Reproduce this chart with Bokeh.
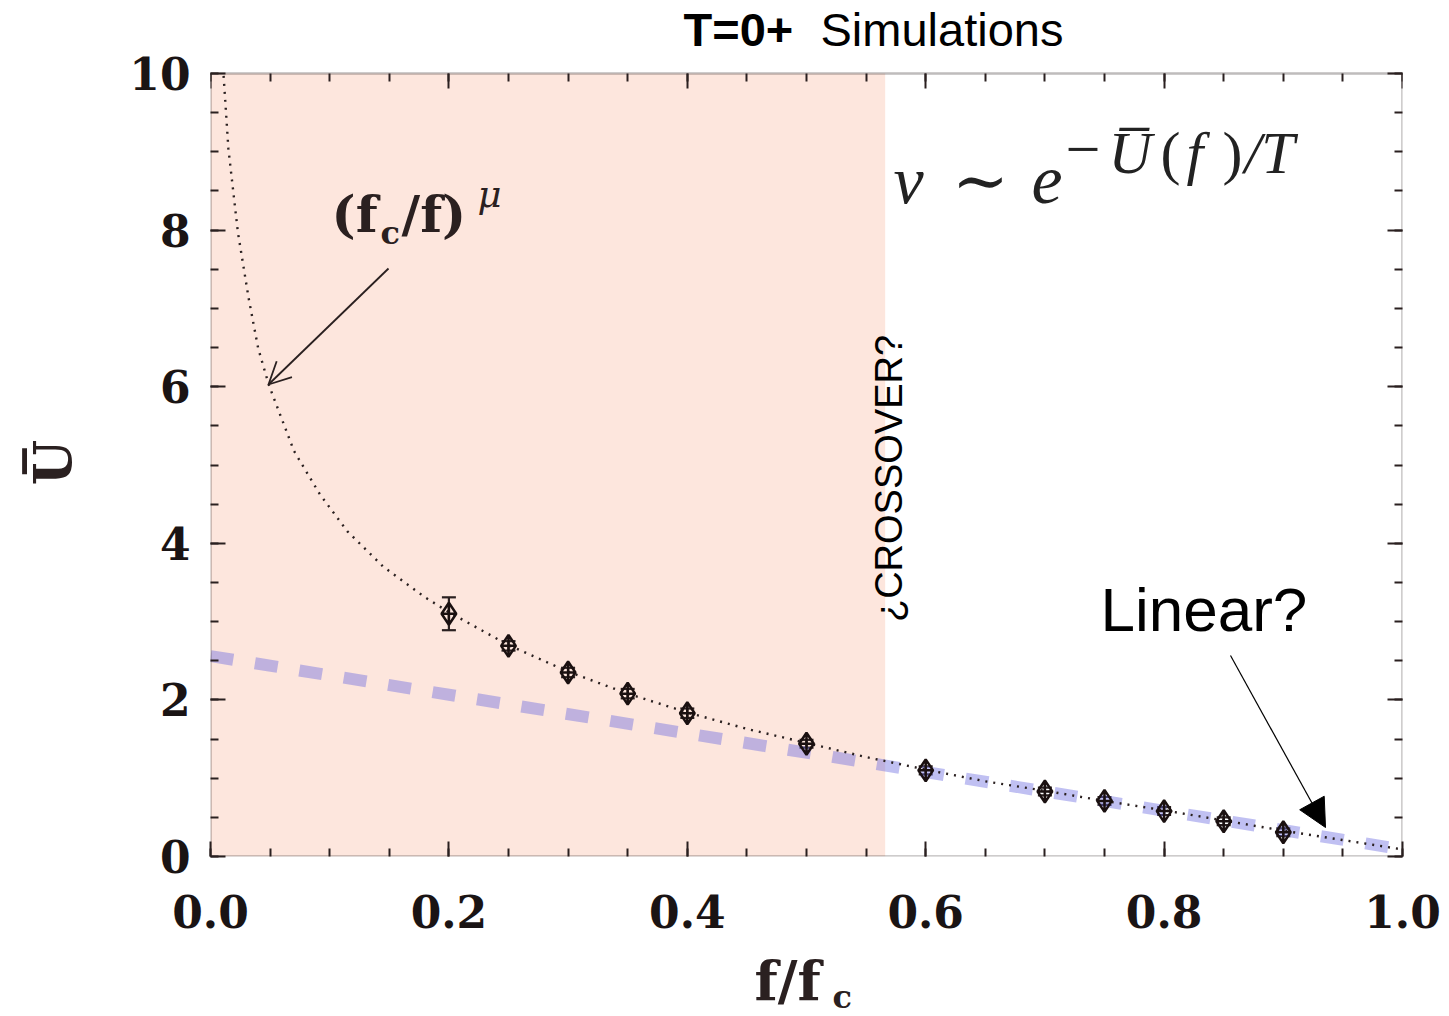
import math
from bokeh.plotting import figure
from bokeh.models import (Range1d, FixedTicker, LinearAxis, Label, Arrow, OpenHead,
                          NormalHead, BoxAnnotation, Whisker, TeeHead, ColumnDataSource,
                          PrintfTickFormatter)
from bokeh.embed import file_html
from bokeh.resources import INLINE

# ---------------- data ----------------
f_pts = [0.20, 0.25, 0.30, 0.35, 0.40, 0.50, 0.60, 0.70, 0.75, 0.80, 0.85, 0.90]
u_pts = [3.10, 2.69, 2.35, 2.08, 1.83, 1.44, 1.10, 0.83, 0.71, 0.58, 0.45, 0.31]
u_err = [0.21, 0.06, 0.06, 0.06, 0.06, 0.05, 0.05, 0.05, 0.05, 0.05, 0.05, 0.05]

# dotted power-law guide (f_c/f)^mu
curve_f = [0.011, 0.015, 0.023, 0.032, 0.040, 0.049, 0.070, 0.092, 0.115, 0.145,
           0.180, 0.20, 0.25, 0.30, 0.35, 0.40, 0.45, 0.50, 0.55, 0.60, 0.65,
           0.70, 0.75, 0.80, 0.85, 0.90, 0.95, 1.00]
curve_u = [9.97, 9.04, 7.97, 7.13, 6.49, 6.02, 5.18, 4.62, 4.15, 3.70,
           3.31, 3.12, 2.70, 2.36, 2.08, 1.84, 1.63, 1.45, 1.27, 1.11, 0.96,
           0.84, 0.71, 0.59, 0.46, 0.33, 0.21, 0.09]

# linear guide
lin_f = [0.0, 1.0]
lin_u = [2.56, 0.09]

crossover_f = 0.566

x_min, x_max = 0.0, 1.0
y_min, y_max = 0.0, 10.0
x_ticks = [0.0, 0.2, 0.4, 0.6, 0.8, 1.0]
x_minor = [i * 0.05 for i in range(21)]
y_ticks = [0, 2, 4, 6, 8, 10]
y_minor = [i * 0.5 for i in range(21)]

# ---------------- layout geometry (pixels) ----------------
W, H = 1449, 1016
FRAME_L, FRAME_R, AX_TOP, FRAME_B = 210, 1402, 73, 856
FRAME_T = 6           # frame extends above the axes box to hold the title
px_per_y = (FRAME_B - AX_TOP) / (y_max - y_min)
y_top = y_max + (AX_TOP - FRAME_T) / px_per_y

p = figure(width=W, height=H, output_backend="svg", toolbar_location=None,
           x_range=Range1d(x_min, x_max), y_range=Range1d(y_min, y_top),
           min_border_left=FRAME_L, min_border_right=W - FRAME_R,
           min_border_top=FRAME_T, min_border_bottom=H - FRAME_B)
p.grid.visible = False
p.background_fill_color = "white"
p.border_fill_color = "white"
p.outline_line_color = None

INK = "#2a2020"

def style_axis(ax, ticks, minor, show_labels):
    ax.ticker = FixedTicker(ticks=ticks, minor_ticks=minor)
    ax.major_tick_in = 15
    ax.major_tick_out = 0
    ax.minor_tick_in = 8
    ax.minor_tick_out = 0
    ax.major_tick_line_width = 2
    ax.minor_tick_line_width = 2
    ax.major_tick_line_color = INK
    ax.minor_tick_line_color = INK
    ax.axis_line_color = None
    ax.major_label_text_font = "DejaVu Serif"
    ax.major_label_text_font_style = "bold"
    if show_labels:
        ax.major_label_text_font_size = "44px"
        ax.major_label_text_color = "#1a1414"
    else:
        ax.major_label_text_font_size = "2px"
        ax.major_label_text_color = None
        ax.major_label_standoff = 0

style_axis(p.xaxis[0], x_ticks, x_minor, True)
p.xaxis[0].formatter = PrintfTickFormatter(format="%.1f")
p.xaxis[0].major_label_standoff = 38
style_axis(p.yaxis[0], y_ticks, y_minor, True)
p.yaxis[0].major_label_standoff = 20

top_ax = LinearAxis(fixed_location=y_max)
style_axis(top_ax, x_ticks, x_minor, False)
p.add_layout(top_ax, "above")
right_ax = LinearAxis()
style_axis(right_ax, y_ticks, y_minor, False)
p.add_layout(right_ax, "right")

# shaded low-force region
p.add_layout(BoxAnnotation(left=x_min, right=crossover_f, bottom=y_min, top=y_max,
                           fill_color="#fde6dd", fill_alpha=1.0, line_color=None,
                           level="underlay"))
# axes box
p.add_layout(BoxAnnotation(left=x_min, right=x_max, bottom=y_min, top=y_max,
                           fill_color=None, line_color=INK, line_width=2.5,
                           level="guide"))

# linear guide (thick translucent dashed)
p.line(lin_f, lin_u, line_color="#6a6ae0", line_alpha=0.42, line_width=12,
       line_dash="23 22")

# dotted power-law curve
p.line(curve_f, curve_u, line_color="#2a2020", line_width=2.4, line_dash="2 6")

# error bars and points
src = ColumnDataSource(dict(f=f_pts, u=u_pts,
                            lo=[u - e for u, e in zip(u_pts, u_err)],
                            hi=[u + e for u, e in zip(u_pts, u_err)]))
p.add_layout(Whisker(source=src, base="f", lower="lo", upper="hi",
                     line_color="#2a2020", line_width=2.2,
                     lower_head=TeeHead(size=14, line_width=2.2, line_color="#2a2020"),
                     upper_head=TeeHead(size=14, line_width=2.2, line_color="#2a2020")))
p.scatter("f", "u", source=src, marker="diamond_cross", size=22,
          fill_color=None, line_color="#1a1010", line_width=2.5)

# ---------------- annotations ----------------
def px2x(px):
    return x_min + (px - FRAME_L) / (FRAME_R - FRAME_L) * (x_max - x_min)

def py2y(py):
    return y_min + (FRAME_B - py) / px_per_y

def label(px, py, text, size, font, style="normal", color="#222222", align="left",
          panel=None):
    """Place text so that its baseline sits at pixel row py."""
    anchor = py - 0.37 * size
    lab = Label(x=px2x(px), y=py2y(anchor), text=text, text_font=font,
                text_font_style=style, text_font_size=f"{size}px", text_color=color,
                text_align=align, text_baseline="alphabetic")
    if panel:
        p.add_layout(lab, panel)
    else:
        p.add_layout(lab)

sans = "Liberation Sans"
serif = "DejaVu Serif"
mf = "Liberation Serif"

# title
label(683, 46, "T=0+", 47, sans, "bold", "black")
label(820, 46, "Simulations", 47, sans, "normal", "black")

# (f_c/f)^mu
label(331, 232, "(f", 51, serif, "bold", INK)
label(380, 244, "c", 32, serif, "bold", INK)
label(401, 232, "/f)", 51, serif, "bold", INK)
label(477, 208, "μ", 37, serif, "italic", INK)
p.add_layout(Arrow(end=OpenHead(size=22, line_width=1.8, line_color=INK),
                   x_start=px2x(388), y_start=py2y(268), x_end=px2x(268), y_end=py2y(384),
                   line_width=1.8, line_color=INK))

# v ~ e^{-U(f)/T}
label(893, 205, "v", 68, mf, "italic")
label(980, 205, "∼", 68, serif, "normal", align="center")
label(1031, 205, "e", 70, mf, "italic")
label(1065, 172, "−", 62, mf)
label(1108, 175, "U\u0305", 60, mf, "italic")
label(1160, 175, "(", 60, mf)
label(1186, 175, "f", 60, mf, "italic")
label(1222, 175, ")", 60, mf)
label(1244, 175, "/T", 60, mf, "italic")

# crossover
p.add_layout(Label(x=px2x(888), y=py2y(478), text="¿CROSSOVER?", text_font=sans,
                   text_font_size="38px", text_color="black", angle=math.pi / 2,
                   text_align="center", text_baseline="middle"))

# Linear?
label(1100, 632, "Linear?", 62, sans, "normal", "black")
p.add_layout(Arrow(end=NormalHead(size=28, fill_color="black", line_color="black", line_width=1),
                   x_start=px2x(1230), y_start=py2y(655), x_end=px2x(1325), y_end=py2y(827),
                   line_width=1.2, line_color="black"))

# axis titles (in side panels so that they are not clipped to the frame)
label(754, 1000, "f/f", 54, serif, "bold", INK, panel="below")
label(832, 1008, "c", 32, serif, "bold", INK, panel="right")
p.add_layout(Label(x=px2x(52), y=py2y(462), text="U\u0305", text_font=serif,
                   text_font_style="bold", text_font_size="52px", text_color=INK,
                   angle=math.pi / 2, text_align="center", text_baseline="middle"), "left")

open("out.html", "w").write(file_html(p, INLINE))
